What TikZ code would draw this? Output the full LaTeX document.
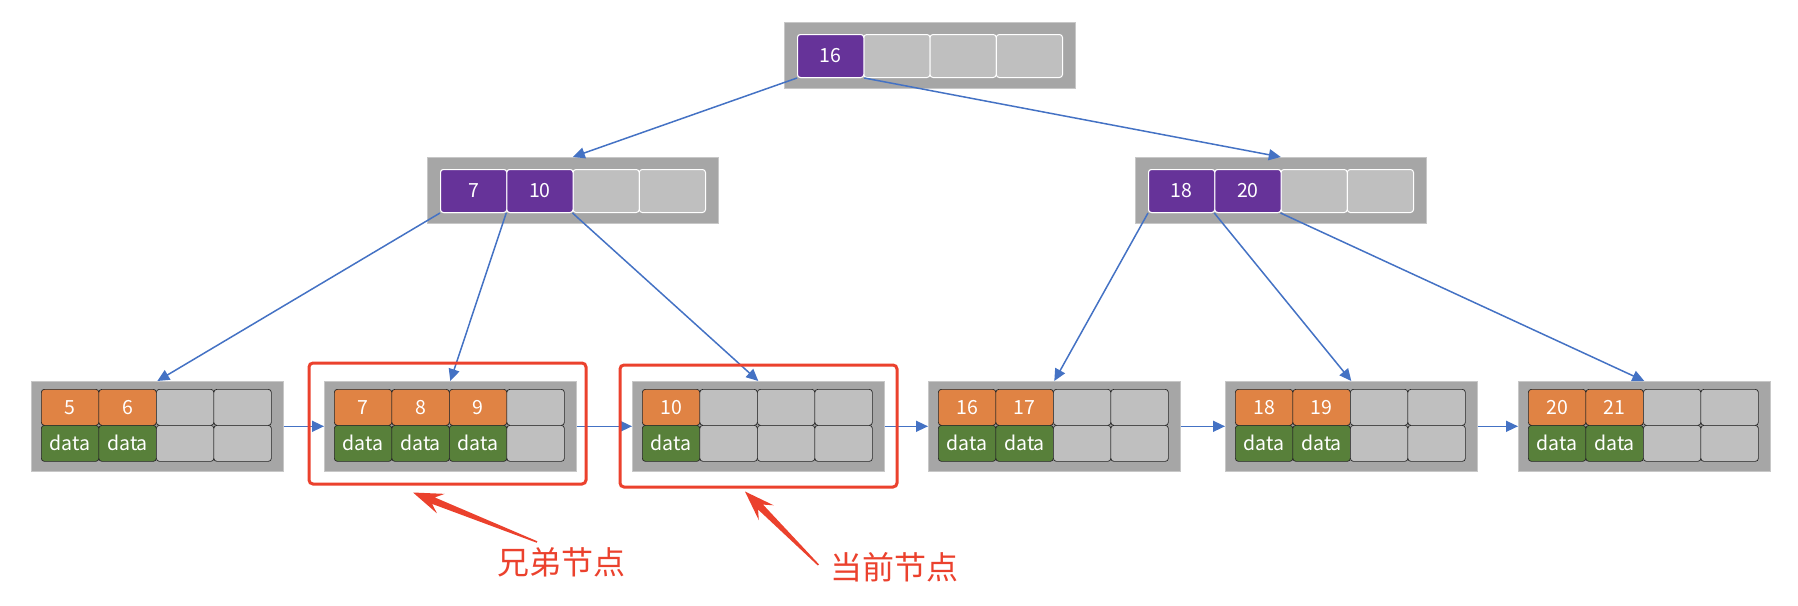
\documentclass[tikz,border=0pt]{standalone}
\usepackage{fontspec}
\setmainfont{Noto Sans CJK SC}
\usepackage{xcolor}
\usetikzlibrary{arrows.meta,positioning,calc}

\definecolor{keyorange}{RGB}{224,131,68}
\definecolor{datagreen}{RGB}{88,128,58}
\definecolor{keypurple}{RGB}{102,51,153}
\definecolor{cellgray}{RGB}{191,191,191}
\definecolor{boxgray}{RGB}{166,166,166}
\definecolor{linkblue}{RGB}{68,114,196}
\definecolor{hintred}{RGB}{235,65,45}

\newcommand{\cellfont}{\fontsize{19.5}{21}\selectfont}
% tapered pointer: tail, tip
\newcommand{\hintarrow}[2]{%
  \coordinate (neck) at ($(#2)!22pt!(#1)$);
  \coordinate (barb) at ($(#2)!30pt!(#1)$);
  \fill[hintred] ($(#1)!0.8pt!90:(#2)$) -- ($(neck)!3.5pt!90:(#2)$)
    -- ($(barb)!10.5pt!90:(#2)$) -- (#2) -- ($(barb)!10.5pt!-90:(#2)$)
    -- ($(neck)!3.5pt!-90:(#2)$) -- ($(#1)!0.8pt!-90:(#2)$) -- cycle;
}

\begin{document}
\begin{tikzpicture}[x=1pt,y=-1pt,
  nodebox/.style={fill=boxgray, draw=black!22, line width=0.6pt, inner sep=0pt,
    anchor=north west, minimum width=291pt, minimum height=66pt},
  leafbox/.style={nodebox, minimum width=252pt, minimum height=90pt},
  idxcell/.style={draw=white, line width=1pt, rounded corners=3pt, fill=cellgray,
    inner sep=0pt, anchor=north west, minimum width=66.25pt, minimum height=43pt,
    text=white, font=\cellfont},
  keycell/.style={draw=black!85, line width=0.7pt, rounded corners=3pt, fill=cellgray,
    inner sep=0pt, anchor=north west, minimum width=57.5pt, minimum height=36pt,
    text=white, font=\cellfont},
  ptr/.style={draw=linkblue, line width=1.5pt, -{Triangle[length=12pt,width=11pt]}},
  hilite/.style={draw=hintred, line width=3pt, rounded corners=4pt,
    minimum width=277pt, minimum height=121pt},
  hint/.style={text=hintred, font=\fontsize{32}{34}\selectfont}]
  \useasboundingbox (0,0) rectangle (1798,605);

  % index nodes
  \foreach \nm/\x/\y/\keys in {root/784/22/{16}, inl/427/157/{7,10}, inr/1135/157/{18,20}} {
    \node[nodebox] (\nm) at (\x,\y) {};
    \foreach \i in {1,...,4}
      \node[idxcell] (\nm-\i) at ({\x+13+66.25*(\i-1)},{\y+12}) {};
    \foreach \k [count=\i] in \keys
      \node[idxcell, fill=keypurple] (\nm-\i) at ({\x+13+66.25*(\i-1)},{\y+12}) {\k};
  }

  % leaf nodes
  \foreach \n/\x/\first/\used in {1/31/5/2, 2/324/7/3, 3/632/10/1, 4/928/16/2, 5/1225/18/2, 6/1518/20/2} {
    \node[leafbox] (leaf\n) at (\x,381) {};
    \foreach \i in {1,...,4} {
      \ifnum\i>\used
        \node[keycell] (leaf\n-k\i) at ({\x+10+57.5*(\i-1)},389) {};
        \node[keycell] (leaf\n-d\i) at ({\x+10+57.5*(\i-1)},425) {};
      \else
        \pgfmathtruncatemacro{\k}{\first+\i-1}
        \node[keycell, fill=keyorange] (leaf\n-k\i) at ({\x+10+57.5*(\i-1)},389) {\k};
        \node[keycell, fill=datagreen] (leaf\n-d\i) at ({\x+10+57.5*(\i-1)},425) {data};
      \fi
    }
  }

  \draw[ptr] (root-1.south west) -- (inl.north);
  \draw[ptr] (root-1.south east) -- (inr.north);
  \foreach \a/\b in {inl-1/leaf1, inl-2/leaf2, inl-3/leaf3, inr-1/leaf4, inr-2/leaf5, inr-3/leaf6}
    \draw[ptr] (\a.south west) -- (\b.north);
  \foreach \a/\b in {1/2, 2/3, 3/4, 4/5, 5/6}
    \draw[ptr] (leaf\a.east) -- (leaf\b.west);

  % highlight
  \node[hilite] (sib) at (447.5,423.5) {};
  \node[hilite, minimum height=122pt] (cur) at (758.5,426) {};
  \node[hint] (sibtxt) at (561,562) {兄弟节点};
  \node[hint] (curtxt) at (894,567) {当前节点};
  \coordinate (sibtail) at ([xshift=-24pt,yshift=20pt]sibtxt.center);
  \coordinate (sibtip) at ([xshift=-34.5pt,yshift=-7pt]sib.south);
  \coordinate (curtail) at ([xshift=-8pt,yshift=2pt]curtxt.west);
  \coordinate (curtip) at ([xshift=-13.5pt,yshift=-3pt]cur.south);
  \hintarrow{sibtail}{sibtip}
  \hintarrow{curtail}{curtip}
\end{tikzpicture}
\end{document}
